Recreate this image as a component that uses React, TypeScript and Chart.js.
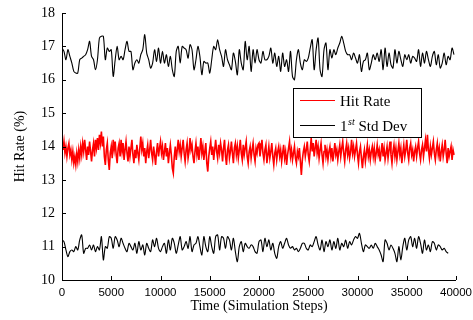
import React, { useEffect, useRef } from "react";
import { Chart, registerables } from "chart.js";

Chart.register(...registerables);

// Sampling interval (simulation steps) of each series
const HIT_STEP = 100;
const STD_STEP = 200;

const xTicks = [0, 5000, 10000, 15000, 20000, 25000, 30000, 35000, 40000];
const yTicks = [10, 11, 12, 13, 14, 15, 16, 17, 18];

const hitRate = [
  14.05,13.9,14.15,13.8,14.0,13.7,13.95,14.1,13.75,13.9,13.6,13.85,13.5,13.7,13.45,13.8,13.55,13.9,13.65,14.0,
  13.75,14.1,13.85,14.2,13.9,13.6,14.0,13.75,14.15,13.85,13.55,13.9,14.1,13.7,14.2,13.95,14.25,13.9,14.35,14.1,
  14.45,14.0,14.3,13.7,13.45,13.9,14.1,13.6,13.3,13.8,14.0,13.65,14.2,13.9,14.15,13.75,13.5,13.95,14.1,13.7,
  14.2,13.85,14.1,13.6,13.9,14.15,13.8,13.55,14.0,13.7,13.95,14.2,13.75,13.5,13.9,13.65,14.05,13.8,13.6,13.95,
  14.3,13.9,14.1,13.7,13.95,13.5,13.85,14.05,13.65,13.9,14.2,13.8,13.6,14.0,13.75,13.45,13.85,14.1,13.7,13.95,
  14.15,13.8,14.0,13.6,13.85,14.1,13.7,13.95,13.5,13.8,14.05,13.75,13.35,13.2,13.7,14.0,13.6,13.9,14.2,13.85,
  14.05,13.7,13.95,14.2,13.8,13.55,13.9,14.1,13.65,13.85,14.25,13.9,14.05,13.7,13.5,13.85,14.1,13.75,14.0,13.6,
  13.9,14.25,13.8,14.0,13.6,13.85,14.1,13.5,13.25,13.7,13.95,14.15,13.75,14.0,13.6,13.9,14.2,13.85,13.65,14.05,
  13.8,14.1,13.9,13.55,13.95,14.2,13.7,13.45,13.9,14.05,13.65,13.85,14.15,13.8,13.5,13.95,14.1,13.75,14.0,13.65,
  13.9,14.2,13.8,13.6,14.05,13.75,13.95,14.15,13.7,13.5,13.85,14.0,13.65,13.9,14.1,13.75,13.55,13.95,13.8,14.05,
  14.1,13.7,13.95,14.2,13.8,13.6,13.9,14.05,13.5,13.75,14.0,13.65,13.85,14.1,13.7,13.45,13.8,13.95,13.6,13.85,
  14.0,13.7,13.9,13.55,13.8,14.05,13.65,13.85,13.45,13.75,13.95,14.15,13.7,13.9,13.6,13.8,14.0,13.65,13.5,13.85,
  13.7,13.95,13.55,13.15,13.6,13.85,14.0,13.7,13.9,14.15,13.75,13.55,13.9,14.25,13.85,14.1,13.7,13.95,14.2,13.8,
  14.0,13.65,13.9,14.1,13.75,13.5,13.85,14.05,13.7,13.9,13.6,13.85,14.0,13.7,13.95,13.55,13.8,14.1,13.75,13.9,
  13.6,13.85,14.05,13.7,13.95,14.15,13.8,13.55,13.9,14.1,13.75,13.95,13.65,13.85,14.2,13.8,14.0,13.7,13.9,14.1,
  13.75,13.5,13.85,14.0,13.65,13.35,13.7,13.9,13.55,13.8,14.05,13.7,13.9,13.6,13.85,14.0,13.7,13.95,13.6,13.8,
  14.05,13.75,13.9,13.55,13.85,14.1,13.7,13.95,13.6,13.8,14.0,13.65,13.9,14.15,13.75,13.5,13.85,14.05,13.7,13.95,
  13.6,13.85,14.1,13.75,13.95,13.5,13.8,14.05,13.7,13.9,14.2,13.8,13.6,13.95,14.1,13.75,13.9,13.55,13.85,14.0,
  13.7,13.95,14.15,13.8,13.6,13.9,14.05,13.7,13.95,14.2,13.85,14.35,13.9,13.65,14.0,13.75,13.95,14.15,13.8,13.6,
  13.9,14.1,13.75,13.95,13.55,13.85,14.05,13.7,13.9,14.2,13.8,13.5,13.95,13.7,13.85,14.0,13.6,13.9,13.75,
];

const stdUpper = [
  16.95,16.85,16.6,16.9,16.7,16.5,16.25,16.2,16.2,16.6,16.65,16.7,16.75,16.9,17.15,16.7,16.6,16.3,16.6,17.25,
  17.3,17.3,16.6,16.95,16.85,16.9,16.1,16.6,17.0,16.6,16.7,16.6,16.9,17.15,16.85,16.85,16.3,16.5,16.6,16.5,
  16.75,16.9,17.35,16.8,16.6,16.35,16.5,16.9,16.55,16.95,16.5,
  16.85,16.5,16.75,16.4,16.7,16.3,16.1,16.85,17.0,16.5,17.0,16.95,16.9,16.65,17.05,16.9,16.3,16.6,17.0,16.7,
  16.15,16.55,16.5,16.5,16.2,16.6,17.0,16.9,17.2,16.9,16.7,16.4,16.9,16.6,16.45,16.3,16.8,16.55,
  16.15,16.9,16.5,16.3,17.15,16.6,17.0,16.25,16.9,16.5,16.9,16.6,16.5,16.85,16.6,16.6,16.7,16.95,16.5,16.8,
  16.4,16.7,16.25,16.8,16.4,16.6,16.25,16.85,16.1,16.0,16.6,16.9,16.5,16.3,16.6,16.55,16.65,16.95,17.2,16.3,
  16.9,17.25,16.3,16.1,16.9,17.1,16.3,16.9,16.65,16.9,16.75,16.95,17.1,17.3,17.1,16.85,16.75,16.75,16.6,16.8,
  16.65,16.5,16.75,16.25,16.55,16.6,16.8,16.3,16.5,16.75,16.6,16.8,16.55,16.9,16.3,16.95,16.4,16.8,16.45,16.35,
  16.9,16.5,16.85,16.6,16.4,16.75,16.6,16.75,16.5,16.7,16.65,16.55,16.9,16.4,16.8,16.5,16.85,16.6,16.4,16.7,
  16.85,16.45,16.75,16.35,16.5,16.8,16.45,16.7,16.6,16.95,16.75,
];

const stdLower = [
  11.2,11.15,10.9,10.7,10.85,10.9,10.85,11.0,10.9,11.2,11.35,10.8,10.95,10.95,11.05,10.9,11.05,10.85,11.0,10.9,
  11.3,10.6,11.0,10.95,11.3,11.25,10.95,11.3,11.2,11.0,11.25,11.1,10.95,10.85,11.1,11.0,10.9,11.1,10.8,11.15,
  10.9,11.05,10.75,11.1,10.95,10.85,11.2,11.0,11.25,10.95,
  10.85,11.0,11.1,10.8,11.2,10.9,11.25,11.1,10.8,11.05,11.3,10.9,11.0,11.15,10.95,11.3,10.85,11.05,11.1,11.3,
  11.0,10.75,11.3,11.0,10.85,11.3,11.0,10.8,11.3,11.35,10.9,11.3,11.25,10.95,11.3,11.2,10.9,11.25,10.85,10.55,
  11.0,11.15,10.85,11.1,11.0,10.95,11.05,11.0,10.85,10.8,
  11.15,11.2,10.85,11.25,11.0,11.2,10.9,11.1,10.8,10.65,11.0,11.15,10.95,11.1,11.25,11.05,10.95,11.0,10.9,10.95,
  10.85,10.95,11.1,11.1,10.95,10.9,11.05,11.0,11.15,11.3,11.05,10.9,11.2,10.85,11.15,11.0,11.2,10.9,11.15,10.95,
  11.25,10.9,11.1,11.0,11.2,10.95,11.15,11.05,11.2,11.3,11.25,11.4,11.1,10.85,11.05,11.0,10.95,11.05,10.95,11.1,
  11.0,10.9,10.75,10.55,11.2,11.1,10.9,11.05,10.95,10.8,10.55,11.0,10.6,11.0,11.25,10.9,11.2,11.3,11.0,11.25,
  10.95,11.3,11.1,10.8,11.2,10.9,11.05,10.85,11.15,11.1,10.9,11.05,11.0,10.9,10.95,10.85,10.8,
];

const toPoints = (vals: number[], step: number) => vals.map((v, i) => ({ x: i * step, y: v }));

const SERIF = "'Liberation Serif', 'DejaVu Serif', serif";
const SANS = "'Liberation Sans', Arial, sans-serif";

const decorPlugin = {
  id: "decor",
  afterDraw(chart: any) {
    const ctx = chart.ctx as CanvasRenderingContext2D;
    const { left, right, top, bottom } = chart.chartArea;
    const xs = chart.scales.x;
    const ys = chart.scales.y;
    ctx.save();
    ctx.strokeStyle = "#000";
    ctx.lineWidth = 1;
    // axes lines
    ctx.beginPath();
    ctx.moveTo(left + 0.5, top);
    ctx.lineTo(left + 0.5, bottom + 0.5);
    ctx.lineTo(right, bottom + 0.5);
    ctx.stroke();
    // inward ticks
    ctx.beginPath();
    xTicks.forEach((t) => {
      const px = Math.round(xs.getPixelForValue(t)) + 0.5;
      ctx.moveTo(px, bottom);
      ctx.lineTo(px, bottom - 4);
    });
    yTicks.forEach((t) => {
      const py = Math.round(ys.getPixelForValue(t)) + 0.5;
      ctx.moveTo(left, py);
      ctx.lineTo(left + 4, py);
    });
    ctx.stroke();

    // axis titles
    ctx.fillStyle = "#000";
    ctx.font = `14px ${SERIF}`;
    ctx.textAlign = "center";
    ctx.textBaseline = "middle";
    ctx.fillText("Time (Simulation Steps)", (left + right) / 2, 306);
    ctx.save();
    ctx.translate(20, (top + bottom) / 2);
    ctx.rotate(-Math.PI / 2);
    ctx.fillText("Hit Rate (%)", 0, 0);
    ctx.restore();

    // legend
    const bx = 293.5, by = 88.5, bw = 128, bh = 49;
    ctx.fillStyle = "#fff";
    ctx.fillRect(bx, by, bw, bh);
    ctx.strokeStyle = "#000";
    ctx.strokeRect(bx, by, bw, bh);
    ctx.lineWidth = 1;
    ctx.strokeStyle = "#ff0000";
    ctx.beginPath();
    ctx.moveTo(300, 100.5);
    ctx.lineTo(335, 100.5);
    ctx.stroke();
    ctx.strokeStyle = "#000";
    ctx.beginPath();
    ctx.moveTo(300, 125.5);
    ctx.lineTo(335, 125.5);
    ctx.stroke();
    ctx.fillStyle = "#000";
    ctx.textAlign = "left";
    ctx.textBaseline = "alphabetic";
    ctx.font = `15px ${SERIF}`;
    ctx.fillText("Hit Rate", 340, 106);
    let cx = 340;
    ctx.fillText("1", cx, 131);
    cx += ctx.measureText("1").width + 0.5;
    ctx.font = `italic 10px ${SERIF}`;
    ctx.fillText("st", cx, 125);
    cx += ctx.measureText("st").width;
    ctx.font = `15px ${SERIF}`;
    ctx.fillText(" Std Dev", cx, 131);
    ctx.restore();
  },
};

export default function App() {
  const ref = useRef<HTMLCanvasElement | null>(null);

  useEffect(() => {
    document.body.style.margin = "0";
    const canvas = ref.current;
    if (!canvas) return;
    const chart = new Chart(canvas, {
      type: "line",
      data: {
        datasets: [
          {
            label: "Hit Rate",
            data: toPoints(hitRate, HIT_STEP),
            borderColor: "#ff0000",
            borderWidth: 1.6,
            pointRadius: 0,
            tension: 0,
          },
          {
            label: "1st Std Dev",
            data: toPoints(stdUpper, STD_STEP),
            borderColor: "#000000",
            borderWidth: 1.1,
            pointRadius: 0,
            tension: 0.3,
          },
          {
            label: "1st Std Dev (lower)",
            data: toPoints(stdLower, STD_STEP),
            borderColor: "#000000",
            borderWidth: 1.1,
            pointRadius: 0,
            tension: 0.3,
          },
        ],
      },
      options: {
        animation: false,
        responsive: false,
        devicePixelRatio: 1,
        layout: { padding: { top: 13, right: 17, left: 0, bottom: 0 } },
        plugins: { legend: { display: false }, tooltip: { enabled: false } },
        scales: {
          x: {
            type: "linear",
            min: 0,
            max: 40000,
            afterBuildTicks: (s: any) => {
              s.ticks = xTicks.map((v) => ({ value: v }));
            },
            afterFit: (s: any) => {
              s.height = 40;
              s.paddingLeft = 0;
              s.paddingRight = 0;
            },
            grid: { display: false, drawTicks: false },
            border: { display: false },
            ticks: {
              autoSkip: false,
              maxRotation: 0,
              padding: 6,
              color: "#000",
              font: { family: SANS, size: 11.5 },
              callback: (v: any) => String(v),
            },
          },
          y: {
            type: "linear",
            min: 10,
            max: 18,
            afterBuildTicks: (s: any) => {
              s.ticks = yTicks.map((v) => ({ value: v }));
            },
            afterFit: (s: any) => {
              s.width = 62;
              s.paddingTop = 0;
              s.paddingBottom = 0;
            },
            grid: { display: false, drawTicks: false },
            border: { display: false },
            ticks: {
              padding: 7,
              color: "#000",
              font: { family: SERIF, size: 14 },
              callback: (v: any) => String(v),
            },
          },
        },
      },
      plugins: [decorPlugin],
    });
    return () => chart.destroy();
  }, []);

  return <canvas ref={ref} width={473} height={320} style={{ display: "block" }} />;
}
